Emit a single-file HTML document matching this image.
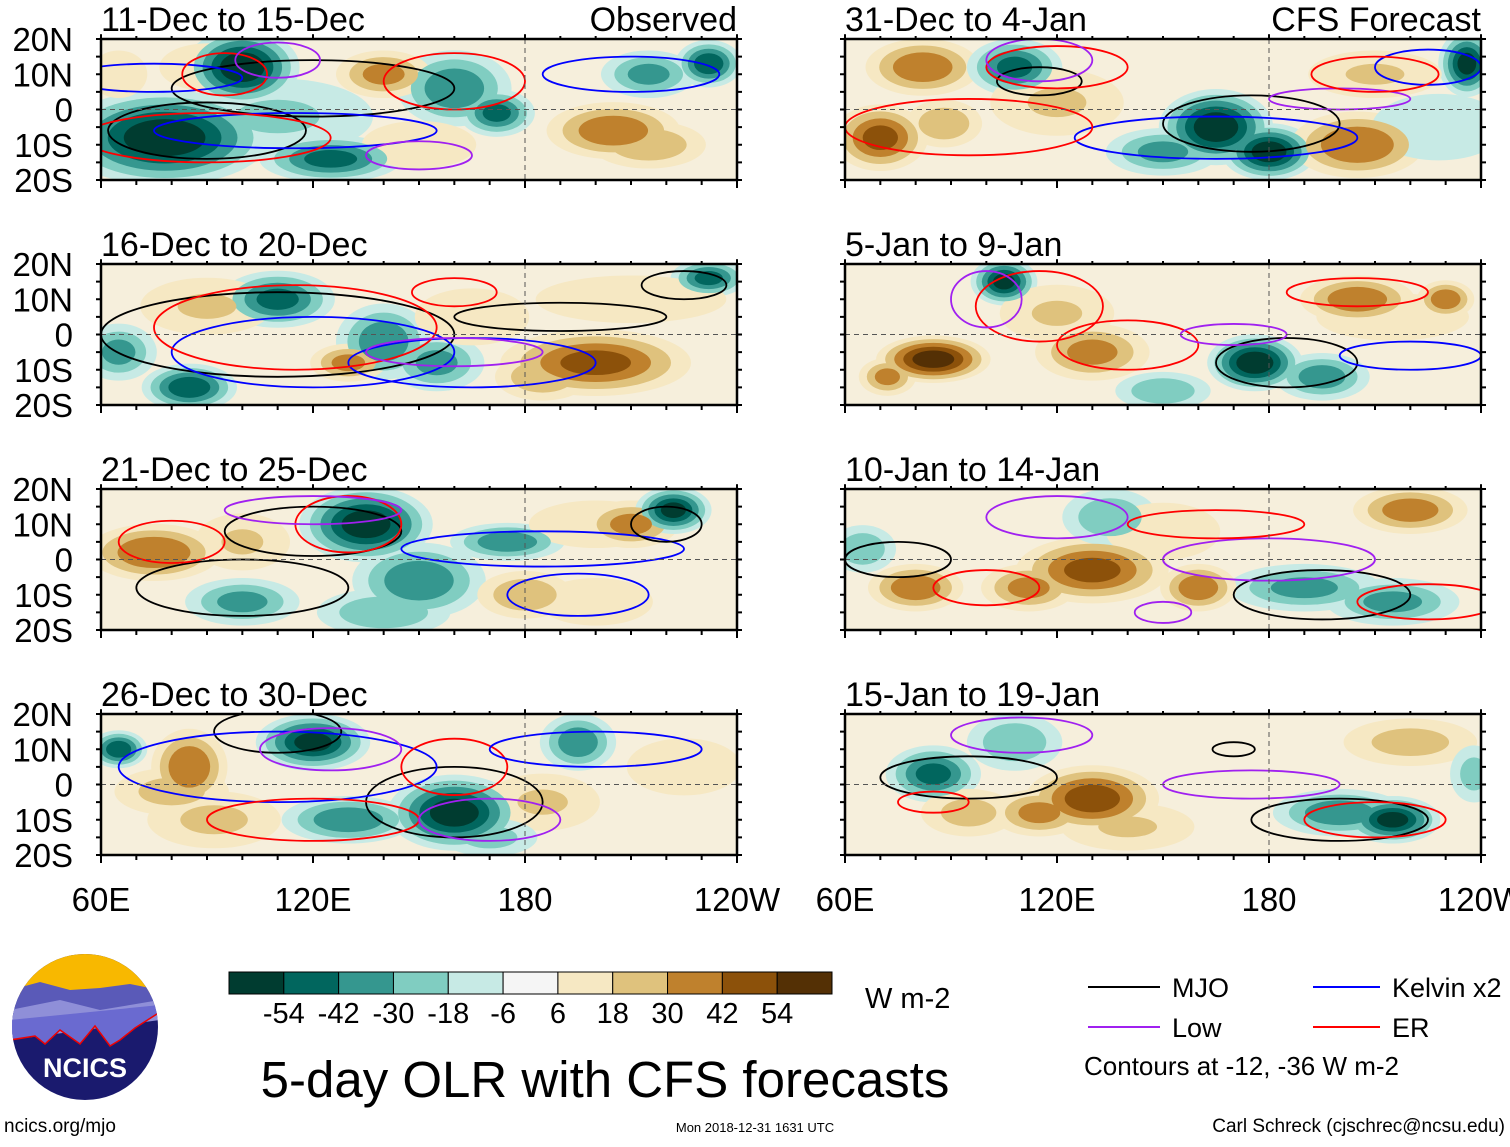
<!DOCTYPE html>
<html><head><meta charset="utf-8">
<style>
html,body{margin:0;padding:0;background:#fff;}
body{width:1510px;height:1142px;overflow:hidden;font-family:"Liberation Sans",sans-serif;}
svg text{font-family:"Liberation Sans",sans-serif;}
</style></head>
<body>
<svg id="chart" width="1510" height="1142" viewBox="0 0 1510 1142" xmlns="http://www.w3.org/2000/svg">
  <g id="panels"></g>
  <g id="colorbar"></g>
  <text x="865" y="1008" font-size="29">W m-2</text>
  <text x="605" y="1097" font-size="51" text-anchor="middle">5-day OLR with CFS forecasts</text>
  <g>
    <line x1="1088" y1="987" x2="1160" y2="987" stroke="#000" stroke-width="2"/>
    <text x="1172" y="997" font-size="27">MJO</text>
    <line x1="1313" y1="987" x2="1380" y2="987" stroke="#0000ff" stroke-width="2"/>
    <text x="1392" y="997" font-size="27">Kelvin x2</text>
    <line x1="1088" y1="1027" x2="1160" y2="1027" stroke="#a020f0" stroke-width="2"/>
    <text x="1172" y="1037" font-size="27">Low</text>
    <line x1="1313" y1="1027" x2="1380" y2="1027" stroke="#ff0000" stroke-width="2"/>
    <text x="1392" y="1037" font-size="27">ER</text>
    <text x="1084" y="1075" font-size="26">Contours at -12, -36 W m-2</text>
  </g>
  <g>
    <clipPath id="logoclip"><circle cx="85" cy="1027" r="73"/></clipPath>
    <g clip-path="url(#logoclip)">
      <rect x="10" y="950" width="150" height="160" fill="#1a1a6e"/>
      <rect x="10" y="950" width="150" height="45" fill="#f8b800"/>
      <path d="M10 990 L40 982 L70 990 L100 988 L130 984 L160 990 L160 1015 L10 1025Z" fill="#5a5ab8"/>
      <path d="M10 1010 L60 1000 L100 1010 L160 1000 L160 1020 L10 1040Z" fill="#8f8fd8"/>
      <path d="M10 1040 L35 1036 L45 1044 L60 1030 L80 1044 L95 1026 L110 1046 L120 1040 L135 1028 L160 1012 L160 1005 L10 1020Z" fill="#6a6ad0"/>
      <path d="M10 1040 L35 1036 L45 1044 L60 1030 L80 1044 L95 1026 L110 1046 L120 1040 L135 1028 L160 1012" fill="none" stroke="#e00" stroke-width="1.5"/>
    </g>
    <text x="85" y="1077" font-size="27" font-weight="bold" fill="#fff" text-anchor="middle">NCICS</text>
  </g>
  <text x="4" y="1132" font-size="19">ncics.org/mjo</text>
  <text x="755" y="1132" font-size="13" text-anchor="middle">Mon 2018-12-31 1631 UTC</text>
  <text x="1505" y="1132" font-size="19" text-anchor="end">Carl Schreck (cjschrec@ncsu.edu)</text>
</svg>
<script>
// Colorbar data
const levels = [-54,-42,-30,-18,-6,6,18,30,42,54];
const levelColors = ["#003c30","#01665e","#35978f","#80cdc1","#c7eae5","#f5f5f5","#f6e8c3","#dfc27d","#bf812d","#8c510a","#543005"];
const panelTitles = ["11-Dec to 15-Dec","16-Dec to 20-Dec","21-Dec to 25-Dec","26-Dec to 30-Dec","31-Dec to 4-Jan","5-Jan to 9-Jan","10-Jan to 14-Jan","15-Jan to 19-Jan"];
const panelTags = ["Observed","","","","CFS Forecast","","",""];
const latTicks = ["20N","10N","0","10S","20S"];
const lonTicks = ["60E","120E","180","120W"];
// OLR anomaly blobs per panel: [lon, lat, anomaly, half-width deg, half-height deg]
const blobs = [
 [[100,12,-60,12,8],[78,-8,-60,22,10],[160,6,-40,12,8],[172,-1,-45,8,5],[125,-14,-45,15,5],[110,-2,-20,20,8],[215,10,-35,10,5],[232,13,-50,7,5],[205,-6,40,14,6],[215,-10,30,12,5],[140,10,35,10,5],[150,-10,18,12,5],[90,12,18,10,5],[65,10,18,6,5]],
 [[200,-8,45,20,7],[185,-12,30,10,5],[85,-15,-50,10,5],[65,-5,-35,8,6],[110,10,-45,12,6],[140,-2,-40,10,8],[155,-8,-35,10,6],[90,8,20,14,6],[232,16,-45,8,4],[130,-8,35,8,4],[165,5,18,12,6],[210,10,12,20,5]],
 [[75,2,42,14,6],[135,10,-58,14,8],[150,-6,-40,14,8],[175,5,-40,12,4],[200,10,18,14,5],[210,10,35,10,5],[222,14,-55,8,5],[100,-12,-35,12,5],[140,-15,-30,14,5],[180,-10,30,10,5],[100,5,20,10,6],[200,-12,15,12,5]],
 [[85,5,42,8,8],[65,10,-50,6,4],[120,12,-55,12,6],[160,-8,-58,14,8],[130,-10,-40,14,5],[185,-5,20,12,6],[195,12,-40,8,6],[92,-10,22,14,6],[225,5,18,12,6],[170,-15,-25,10,4],[80,-2,25,12,5]],
 [[70,-8,45,10,7],[82,12,40,12,6],[108,12,-45,10,6],[165,-5,-60,12,8],[180,-12,-58,10,6],[150,-12,-35,12,5],[205,-10,42,14,7],[236,13,-55,6,7],[120,2,20,14,7],[210,10,20,14,5],[88,-4,30,8,5],[228,-5,-15,14,7]],
 [[85,-7,58,12,5],[105,15,-55,7,5],[176,-8,-60,10,6],[195,-12,-38,10,5],[205,10,40,12,5],[130,-5,35,12,6],[150,-16,-30,10,4],[120,6,20,12,6],[215,5,18,16,5],[230,10,40,6,4],[72,-12,35,6,4]],
 [[130,-3,45,16,7],[112,-8,35,10,5],[80,-8,40,10,5],[190,-8,-35,16,5],[215,-12,-35,14,5],[65,3,-30,7,5],[135,12,-30,10,6],[220,14,38,12,5],[150,8,15,12,6],[160,-8,40,8,5]],
 [[85,3,-45,10,6],[108,12,-30,10,6],[130,-4,48,14,7],[115,-8,35,10,5],[200,-8,-40,14,5],[215,-10,-55,10,5],[140,-12,20,14,5],[220,12,25,14,5],[238,3,-25,5,6],[95,-8,25,10,5]]
];
// Filtered contours per panel: [type, lon, lat, half-width deg, half-height deg]
const contours = [
 [["mjo",120,6,40,8],["mjo",90,-6,28,8],["kelvin",75,9,25,4],["kelvin",115,-6,40,5],["er",95,10,12,6],["er",90,-8,35,7],["low",110,14,12,5],["low",150,-13,15,4],["kelvin",210,10,25,5],["er",160,8,20,8]],
 [["mjo",110,0,50,12],["mjo",190,5,30,4],["kelvin",120,-5,40,10],["kelvin",165,-8,35,7],["er",115,2,40,12],["er",160,12,12,4],["low",160,-5,25,4],["mjo",225,14,12,4]],
 [["mjo",120,8,25,7],["mjo",100,-8,30,8],["kelvin",185,3,40,5],["er",130,10,15,8],["er",80,5,15,6],["low",120,14,25,4],["kelvin",195,-10,20,6],["mjo",220,10,10,5]],
 [["mjo",110,15,18,6],["mjo",160,-5,25,10],["kelvin",110,5,45,10],["er",120,-10,30,6],["er",160,5,15,8],["low",125,10,20,6],["kelvin",200,10,30,5],["low",170,-10,20,6]],
 [["mjo",175,-4,25,8],["mjo",115,8,12,4],["kelvin",165,-8,40,6],["er",95,-5,35,8],["er",120,12,20,6],["low",115,14,15,6],["low",200,3,20,3],["kelvin",225,12,15,5],["er",210,10,18,5]],
 [["mjo",185,-8,20,7],["er",115,8,18,10],["er",140,-3,20,7],["low",100,10,10,8],["kelvin",220,-6,20,4],["er",205,12,20,4],["low",170,0,15,3]],
 [["mjo",75,0,15,5],["mjo",195,-10,25,7],["low",120,12,20,6],["low",180,0,30,6],["er",100,-8,15,5],["er",165,10,25,4],["er",225,-12,20,5],["low",150,-15,8,3]],
 [["mjo",95,2,25,6],["mjo",200,-10,25,6],["low",110,14,20,5],["low",175,0,25,4],["er",210,-10,20,5],["er",85,-5,10,3],["mjo",170,10,6,2]]
];
const contourColors = {mjo:"#000",kelvin:"#0000ff",low:"#a020f0",er:"#ff0000"};

const NS = "http://www.w3.org/2000/svg";
function mk(tag, attrs, parent){const e=document.createElementNS(NS,tag);for(const k in attrs)e.setAttribute(k,attrs[k]);parent.appendChild(e);return e;}
const PW=636, PH=141;
const colX=[101,845], rowY=[39,264,489,714];
function colorFor(v){let i=0;while(i<levels.length&&v>levels[i])i++;return levelColors[i];}

const panelsG=document.getElementById('panels');
for(let p=0;p<8;p++){
  const x0=colX[p<4?0:1], y0=rowY[p%4];
  const xs=lon=>x0+(lon-60)*PW/180;
  const ys=lat=>y0+(20-lat)*PH/40;
  const g=mk('g',{},panelsG);
  
  
  const cp=mk('clipPath',{id:'clip'+p},g);
  mk('rect',{x:x0,y:y0,width:PW,height:PH},cp);
  const inner=mk('g',{'clip-path':'url(#clip'+p+')'},g);
  mk('rect',{x:x0,y:y0,width:PW,height:PH,fill:"#f6efdc"},inner);
  // shading: draw all outer levels first, then inner, so blobs merge
  const stepsAll=[6,18,30,42,54];
  stepsAll.forEach((s,si)=>{
    blobs[p].forEach(b=>{
      const [lon,lat,v,w,h]=b;
      const sign=v<0?-1:1, mag=Math.abs(v);
      if(s>=mag) return;
      const f=1.35*(1-0.7*(s-6)/(mag-5));
      const e=mk('ellipse',{cx:xs(lon),cy:ys(lat),rx:w*PW/180*f,ry:h*PH/40*f,fill:colorFor(sign*(s+1))},inner);
      
      
    });
  });
  // contours
  contours[p].forEach(c=>{
    const [t,lon,lat,w,h]=c;
    const e=mk('ellipse',{cx:xs(lon),cy:ys(lat),rx:w*PW/180,ry:h*PH/40,fill:"none",stroke:contourColors[t],'stroke-width':1.8},inner);
    
    
  });
  // equator and dateline
  mk('line',{x1:x0,y1:ys(0),x2:x0+PW,y2:ys(0),stroke:"#555","stroke-dasharray":"5,4","stroke-width":1},inner);
  mk('line',{x1:xs(180),y1:y0,x2:xs(180),y2:y0+PH,stroke:"#555","stroke-dasharray":"5,4","stroke-width":1},inner);
  // frame
  mk('rect',{x:x0,y:y0,width:PW,height:PH,fill:"none",stroke:"#000","stroke-width":2.5},g);
  for(let lon=60;lon<=240;lon+=10){
    const L=(lon%60===0)?8:5;
    mk('line',{x1:xs(lon),y1:y0,x2:xs(lon),y2:y0-L*0.6,stroke:"#000","stroke-width":2},g);
    mk('line',{x1:xs(lon),y1:y0+PH,x2:xs(lon),y2:y0+PH+L,stroke:"#000","stroke-width":2},g);
  }
  for(let lat=-20;lat<=20;lat+=5){
    mk('line',{x1:x0,y1:ys(lat),x2:x0-5,y2:ys(lat),stroke:"#000","stroke-width":2},g);
    mk('line',{x1:x0+PW,y1:ys(lat),x2:x0+PW+5,y2:ys(lat),stroke:"#000","stroke-width":2},g);
  }
  const t=mk('text',{x:x0,y:y0-8,'font-size':34},g);
  t.textContent=panelTitles[p];
  
  
  if(panelTags[p]){
    const tg=mk('text',{x:x0+PW,y:y0-8,'font-size':34,'text-anchor':'end'},g);
    tg.textContent=panelTags[p];
    
    
  }
  if(p<4){
    latTicks.forEach((l,i)=>{
      const lt=mk('text',{x:73,y:ys(20-i*10)+12,'font-size':33,'text-anchor':'end'},g);
      lt.textContent=l;
      
      
    });
  }
  if(p%4===3){
    lonTicks.forEach((l,i)=>{
      const lt=mk('text',{x:xs(60+i*60),y:911,'font-size':33,'text-anchor':'middle'},g);
      lt.textContent=l;
      
      
    });
  }
}
// colorbar
const cb=document.getElementById('colorbar');
const cbX=229, cbW=603/levelColors.length;
levelColors.forEach((c,i)=>{
  const r=mk('rect',{x:cbX+i*cbW,y:972,width:cbW,height:22,fill:c,stroke:"#000","stroke-width":1},cb);
  
  
});
levels.forEach((v,i)=>{
  const t=mk('text',{x:cbX+(i+1)*cbW,y:1023,'font-size':29,'text-anchor':'middle'},cb);
  t.textContent=v;
  
  
});
</script>
</body></html>
